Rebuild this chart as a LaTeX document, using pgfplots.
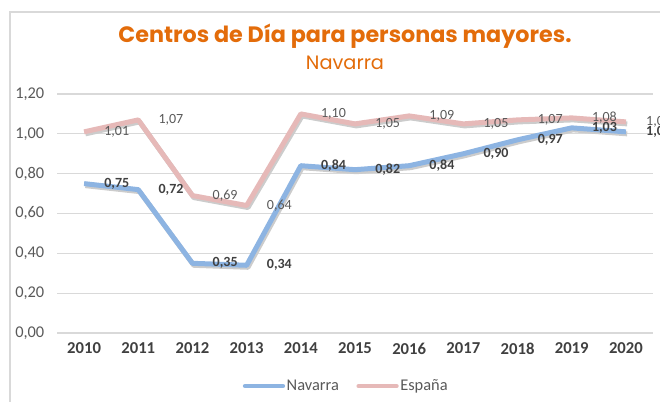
\documentclass[border=0pt]{standalone}
\usepackage{fontspec}
\setmainfont{Carlito}
\newfontfamily\titlefont{Poppins}
\usepackage{pgfplots}
\pgfplotsset{compat=1.18}
\definecolor{ttl}{HTML}{E36C0A}
\definecolor{nav}{HTML}{8DB4E2}
\definecolor{esp}{HTML}{E6B9B8}
\definecolor{grd}{HTML}{D9D9D9}
\definecolor{txt}{HTML}{595959}
\definecolor{dtxt}{HTML}{404040}
\begin{document}
\begin{tikzpicture}
\useasboundingbox (0,0) rectangle (495pt,300.75pt);
\clip (0,0) rectangle (495pt,300.75pt);
\begin{scope}[x=0.75pt,y=-0.75pt,shift={(0,300.75pt)}]
\draw[grd,line width=0.9pt] (10,500) -- (10,12) -- (700,12);
\node[text=ttl,font=\titlefont\bfseries\fontsize{16.7}{20}\selectfont] at (345,36) {Centros de Día para personas mayores.};
\node[text=ttl,font=\titlefont\fontsize{14.5}{17}\selectfont] at (345,63) {Navarra};
\end{scope}
\begin{axis}[
  at={(42.75pt,51pt)}, anchor=south west,
  scale only axis, width=447pt, height=179.25pt,
  xmin=-0.5, xmax=10.5, ymin=0, ymax=1.2,
  axis line style={draw=none},
  major tick length=0pt,
  ytick={0,0.2,...,1.2},
  ymajorgrids, grid style={grd,line width=0.8pt},
  xtick={0,...,10},
  xticklabels={2010,2011,2012,2013,2014,2015,2016,2017,2018,2019,2020},
  xticklabel style={font=\fontsize{12.5}{14}\selectfont\bfseries, text=dtxt, yshift=-4pt},
  yticklabel style={font=\fontsize{12.3}{14}\selectfont, text=txt, xshift=-6pt},
  /pgf/number format/.cd, fixed, fixed zerofill, precision=2, use comma, assume math mode=true,
  /pgfplots/.cd,
  clip=false,
  legend columns=2,
  legend style={at={(0.485,-0.222)}, anchor=center, draw=none, font=\fontsize{12.3}{14}\selectfont, text=txt,
    nodes={inner xsep=1.2pt},
    /tikz/every even column/.append style={column sep=12pt}},
  legend image code/.code={\draw[#1, line width=3.2pt, line cap=round] (0pt,0pt) -- (28.5pt,0pt);},
]
% shadows
\addplot[black!20, line width=3.75pt, line join=round, shift={(1pt,-1.5pt)}, forget plot] coordinates {(0,1.01)(1,1.07)(2,0.69)(3,0.64)(4,1.10)(5,1.05)(6,1.09)(7,1.05)(8,1.07)(9,1.08)(10,1.06)};
\addplot[black!20, line width=3.75pt, line join=round, shift={(1pt,-1.5pt)}, forget plot] coordinates {(0,0.75)(1,0.72)(2,0.35)(3,0.34)(4,0.84)(5,0.82)(6,0.84)(7,0.90)(8,0.97)(9,1.03)(10,1.01)};
% Navarra
\addplot[nav, line width=3.75pt, line join=round,
  nodes near coords, every node near coord/.append style={anchor=west, xshift=10pt, font=\fontsize{10.5}{12}\selectfont\bfseries, text=dtxt, /pgf/number format/assume math mode=true}]
  coordinates {(0,0.75)(1,0.72)(2,0.35)(3,0.34)(4,0.84)(5,0.82)(6,0.84)(7,0.90)(8,0.97)(9,1.03)(10,1.01)};
\addlegendentry{Navarra}
% Espana
\addplot[esp, line width=3.75pt, line join=round,
  nodes near coords, every node near coord/.append style={anchor=west, xshift=10pt, font=\fontsize{10.5}{12}\selectfont, text=txt, /pgf/number format/assume math mode=true}]
  coordinates {(0,1.01)(1,1.07)(2,0.69)(3,0.64)(4,1.10)(5,1.05)(6,1.09)(7,1.05)(8,1.07)(9,1.08)(10,1.06)};
\addlegendentry{España}
\end{axis}
\end{tikzpicture}
\end{document}
